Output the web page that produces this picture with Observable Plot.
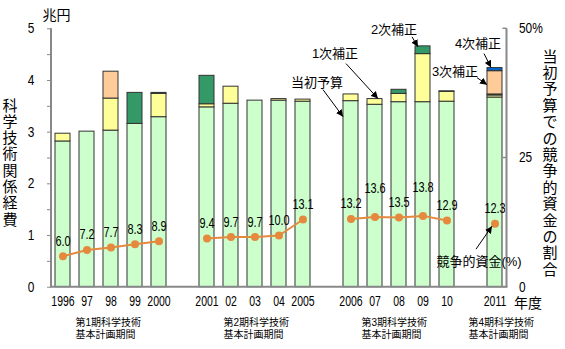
<!DOCTYPE html>
<html><head><meta charset="utf-8">
<script src="https://cdn.jsdelivr.net/npm/d3@7"></script>
<script src="https://cdn.jsdelivr.net/npm/@observablehq/plot@0.6"></script>
<style>
html,body{margin:0;padding:0;background:#fff;}
#chart svg{display:block;}
</style>
</head><body><div id="chart"></div>
<script>
// ---- data ----
const years = ["1996","1997","1998","1999","2000","2001","2002","2003","2004","2005","2006","2007","2008","2009","2010","2011"];
const tickLabels = ["1996","97","98","99","2000","2001","02","03","04","2005","2006","07","08","09","10","2011"];
const periods = [1,1,1,1,1,2,2,2,2,2,3,3,3,3,3,4];
const seriesNames = ["当初予算","1次補正","2次補正","3次補正","4次補正"];
// 兆円
const initialBudget = [2.82,3.01,3.03,3.16,3.29,3.48,3.55,3.61,3.61,3.59,3.60,3.53,3.58,3.58,3.59,3.67];
const supplement1   = [0.15,0,0.62,0,0.45,0.06,0.33,0,0.03,0.04,0.13,0.11,0.16,0.93,0.19,0.04];
const supplement2   = [0,0,0,0.60,0.02,0.55,0,0,0,0,0,0,0.08,0.15,0.01,0.02];
const supplement3   = [0,0,0.52,0,0,0,0,0,0,0,0,0,0,0,0,0.45];
const supplement4   = [0,0,0,0,0,0,0,0,0,0,0,0,0,0,0,0.06];
// 競争的資金の割合 (%)
const competitiveShare = [6.0,7.2,7.7,8.3,8.9,9.4,9.7,9.7,10.0,13.1,13.2,13.6,13.5,13.8,12.9,12.3];
const periodLabels = [["第1期科学技術","基本計画期間"],["第2期科学技術","基本計画期間"],["第3期科学技術","基本計画期間"],["第4期科学技術","基本計画期間"]];
const raisedLabels = ["2007","2009"];
const leftTitle = "科学技術関係経費";
const rightTitle = "当初予算での競争的資金の割合";

// ---- derived tables ----
const FONT = "'Liberation Sans', Arial, 'Noto Sans CJK JP', sans-serif";
const colors = {"当初予算":"#ccffcc","1次補正":"#ffff99","2次補正":"#339966","3次補正":"#ffcc99","4次補正":"#0066cc"};
const seriesValues = [initialBudget, supplement1, supplement2, supplement3, supplement4];
const domain = [];
years.forEach((y,i)=>{ if(i>0 && periods[i]!==periods[i-1]) domain.push("gap"+periods[i]); domain.push(y); });
const labelOf = new Map(years.map((y,i)=>[y,tickLabels[i]]));
const stacked = [];
years.forEach((y,i)=>seriesNames.forEach((s,k)=>stacked.push({year:y, series:s, value:seriesValues[k][i]})));
const bars = stacked.filter(d=>d.value>0);
const pts = years.map((y,i)=>({year:y, period:periods[i], share:competitiveShare[i]}));
const orange = "#e5893e";

const chart = Plot.plot({
  width:565, height:349,
  marginLeft:51, marginRight:58.5, marginTop:28.3, marginBottom:62.3,
  style:{fontFamily:FONT, fontSize:"13px", color:"#000", background:"#fff"},
  x:{type:"band", domain, paddingInner:0.36, paddingOuter:0.125, axis:null, label:null},
  y:{domain:[0,5], axis:null, label:null},
  marks:[
    Plot.barY(bars, {x:"year", y:"value", fill:d=>colors[d.series], stroke:"#333", strokeWidth:1}),
    Plot.axisX({ticks:years, tickFormat:d=>labelOf.get(d), tickSize:0, tickPadding:9, fontSize:14, label:null}),
    Plot.axisY({ticks:d3.range(0,5.001,0.5), tickFormat:d=>Number.isInteger(d)?String(d):"", tickSize:4, tickPadding:13, fontSize:14, anchor:"left", label:null, stroke:"#888"}),
    Plot.axisY({ticks:[0,2.5,5], tickFormat:d=>d===5?"50%":String(d*10), tickSize:0, tickPadding:12, fontSize:14, anchor:"right", label:null}),
    Plot.line(pts, {x:"year", y:d=>d.share/10, z:"period", stroke:orange, strokeWidth:2}),
    Plot.dot(pts, {x:"year", y:d=>d.share/10, r:4, fill:orange}),
    Plot.text(pts.filter(d=>!raisedLabels.includes(d.year)), {x:"year", y:d=>d.share/10, text:d=>d.share.toFixed(1), dy:-15, fontSize:14}),
    Plot.text(pts.filter(d=>raisedLabels.includes(d.year)), {x:"year", y:d=>d.share/10, text:d=>d.share.toFixed(1), dy:-28.5, fontSize:14})
  ]
});
document.getElementById("chart").appendChild(chart);

// ---- narrow the numeric labels (the source uses a condensed face) ----
const svg = d3.select(chart);
function condense(sel, k){
  sel.each(function(){
    const t = this.getAttribute("transform") || "";
    this.setAttribute("transform", (t + ` scale(${k},1)`).trim());
  });
}
condense(svg.selectAll('g[aria-label="x-axis tick label"] text'), 0.75);
condense(svg.selectAll('g[aria-label="y-axis tick label"] text'), 0.85);
condense(svg.selectAll('g[aria-label="text"] text'), 0.78);

// ---- decorations through the plot's own scales ----
const xs = chart.scale("x"), ys = chart.scale("y");
const bw = xs.bandwidth;
const lx = k => xs.apply(k);
const cx = k => xs.apply(k) + bw/2;
const py = v => ys.apply(v);
const X0 = 51, X1 = 565-58.5;

// axis frame lines
const g = svg.append("g").attr("stroke","#888").attr("stroke-width",2);
g.append("line").attr("x1",X0).attr("x2",X0).attr("y1",py(5)).attr("y2",py(0));
g.append("line").attr("x1",X1).attr("x2",X1).attr("y1",py(5)).attr("y2",py(0));
g.append("line").attr("x1",X0-1).attr("x2",X1+1).attr("y1",py(0)).attr("y2",py(0));
[0,2.5,5].forEach(v=>svg.append("line").attr("x1",X1-4).attr("x2",X1).attr("y1",py(v)).attr("y2",py(v)).attr("stroke","#888").attr("stroke-width",1.5));

// arrow marker
svg.append("defs").html('<marker id="ah" viewBox="0 0 10 10" refX="10" refY="5" markerWidth="7" markerHeight="7" markerUnits="userSpaceOnUse" orient="auto"><path d="M0,0L10,5L0,10z" fill="#000"/></marker>');

function annotate(label, tip, tail, text){
  svg.append("line").attr("x1",tip[0]+tail[0]).attr("y1",tip[1]+tail[1]).attr("x2",tip[0]).attr("y2",tip[1])
    .attr("stroke","#000").attr("stroke-width",1).attr("marker-end","url(#ah)");
  svg.append("text").attr("x",tip[0]+text[0]).attr("y",tip[1]+text[1]).attr("text-anchor","middle")
    .attr("dominant-baseline","central").attr("font-size",13).attr("font-family",FONT).text(label);
}
const idx = k => years.indexOf(k);
const stackTop = i => seriesValues.reduce((s,a)=>s+a[i],0);
annotate("当初予算", [lx("2006"), py(initialBudget[idx("2006")]) + 16], [-20,-27], [-26,-34]);
annotate("1次補正", [lx("2007")+11, py(initialBudget[idx("2007")]+supplement1[idx("2007")])], [-32,-35], [-43,-45]);
annotate("2次補正", [lx("2009")+3, py(stackTop(idx("2009")))+1], [-6,-10], [-24,-17]);
annotate("4次補正", [lx("2011")+4, py(stackTop(idx("2011")))], [-7,-14], [-13,-24]);
annotate("3次補正", [lx("2011"), py(stackTop(idx("2011")) - supplement4[idx("2011")] - 0.27)], [-10,-7], [-32,-13]);
annotate("競争的資金(%)", [cx("2011")-2.5, py(competitiveShare[idx("2011")]/10)+3], [-16,23], [-13,35]);

// unit texts
const addText = (t,x,y,size,anchor="middle") => svg.append("text").attr("x",x).attr("y",y)
  .attr("text-anchor",anchor).attr("dominant-baseline","central").attr("font-size",size).attr("font-family",FONT).text(t);
addText("兆円", 56.5, 15, 14);
addText("年度", 528, 302.5, 14);
[...leftTitle].forEach((c,i)=>addText(c, 10, 105 + i*16.3, 15));
[...rightTitle].forEach((c,i)=>addText(c, 550, 56 + i*16.4, 15));

// period labels (left aligned, anchored to the period's middle year)
const periodMid = ["1998","2003","2008","2011"];
const periodShift = [-35,-31,-37,-26];
periodLabels.forEach((lines,i)=>{
  lines.forEach((t,j)=>addText(t, cx(periodMid[i]) + periodShift[i], py(0) + 36 + j*11.5, 10, "start"));
});
</script>
</body></html>
